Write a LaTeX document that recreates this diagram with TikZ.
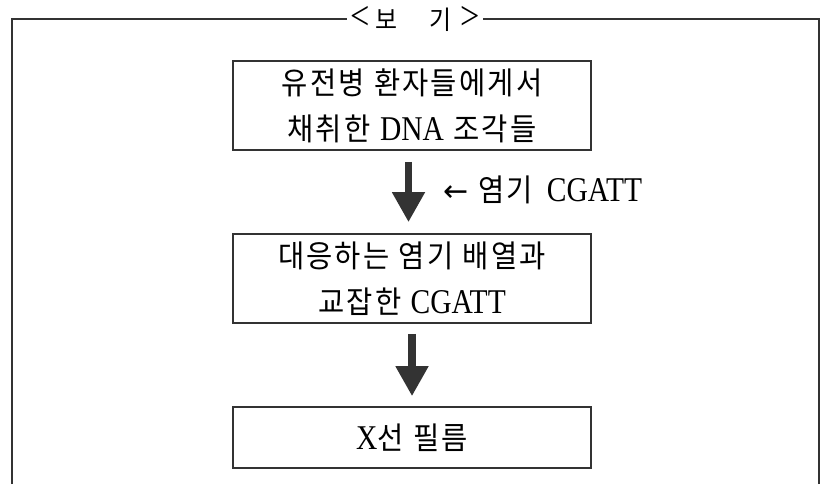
\documentclass[tikz,border=0pt]{standalone}
\usepackage{fontspec}
\setmainfont{Liberation Serif}
\newfontfamily\kr[LetterSpace=7,WordSpace=1.1,FakeStretch=0.92]{Noto Sans CJK KR}
\newfontfamily\lat[FakeStretch=0.85,Scale=1.12]{Liberation Serif}
\newfontfamily\dv{DejaVu Sans}
\usetikzlibrary{arrows.meta}
\definecolor{ink}{HTML}{333333}
\tikzset{
  frame/.style={draw=ink, line width=2pt},
  stepbox/.style={draw=ink, line width=1.6pt, minimum width=358pt, inner sep=0pt, align=center,
    font=\kr\fontsize{31}{46}\selectfont},
  bigarrow/.style={draw=ink, line width=7.5pt, -{Triangle[width=31pt,length=30pt]}},
  lbl/.style={inner sep=0pt, font=\kr\fontsize{31}{46}\selectfont}
}
\begin{document}
\begin{tikzpicture}[x=1pt,y=-1pt]
\useasboundingbox (0,0) rectangle (826,484);
% frame
\node[inner xsep=3pt, inner ysep=0pt, font=\kr\fontsize{26}{30}\selectfont] (title) at (415,19)
  {{\lat\fontsize{36}{36}\selectfont <}\hspace{6pt}보\hspace{32pt}기\hspace{8pt}{\lat\fontsize{36}{36}\selectfont >}};
\coordinate (fl) at (12,484);
\coordinate (fr) at (819,484);
\draw[frame] (fl) |- (title.west);
\draw[frame] (fr) |- (title.east);
% boxes
\node[stepbox, minimum height=89pt] (b1) at (412,105.5)
  {유전병 환자들에게서\\채취한 {\lat DNA} 조각들};
\node[stepbox, minimum height=89pt] (b2) at (412,278.5)
  {대응하는 염기 배열과\\교잡한 {\lat CGATT}};
\node[stepbox, minimum height=61pt] (b3) at (412,437.5)
  {{\lat X}선 필름};
% arrows
\draw[bigarrow] ([xshift=-3.5pt,yshift=-11pt]b1.south) -- ([xshift=-3.5pt,yshift=11pt]b2.north);
\draw[bigarrow] ([yshift=-10pt]b2.south) -- ([yshift=10pt]b3.north);
\node[lbl, anchor=west] (lab) at (443,190) {{\dv\fontsize{30}{30}\selectfont ←}\hspace{10pt}염기\hspace{14pt}{\lat CGATT}};
\end{tikzpicture}
\end{document}
